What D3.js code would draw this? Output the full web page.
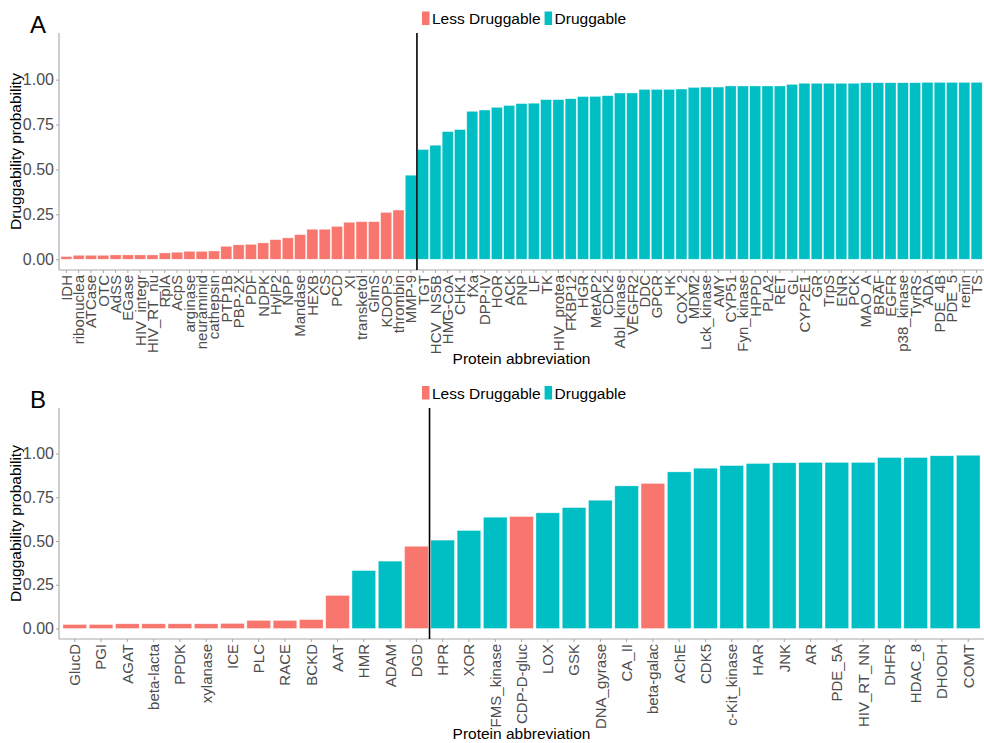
<!DOCTYPE html>
<html>
<head>
<meta charset="utf-8">
<script src="https://cdn.jsdelivr.net/npm/d3@7"></script>
<style>
  html, body { margin: 0; padding: 0; background: #ffffff; }
  svg { display: block; font-family: Arial, "Liberation Sans", sans-serif; }
</style>
</head>
<body>
<svg id="chart" width="984" height="743"></svg>
<script>
// Panel A: protein targets ordered by druggability probability
const proteinsA = [
  "IDH", "ribonuclea", "ATCase", "OTC", "AdSS", "EGase", "HIV_integr", "HIV_RT_nu",
  "RplA", "AcpS", "arginase", "neuraminid", "cathepsin", "PTP1B", "PBP-2X", "PDF",
  "NDPK", "HylP2", "NPP", "Mandase", "HEXB", "CS", "PCD", "XI", "transketol", "GlmS",
  "KDOPS", "thrombin", "MMP-9", "TGT", "HCV_NS5B", "HMG-CoA", "CHK1", "fXa", "DPP-IV",
  "HOR", "ACK", "PNP", "LF", "TK", "HIV_protea", "FKBP12", "HGR", "MetAP2", "CDK2",
  "Abl_kinase", "VEGFR2", "DDC", "GPCR", "HK", "COX_2", "MDM2", "Lck_kinase", "AMY",
  "CYP51", "Fyn_kinase", "HPPD", "PLA2", "RET", "GL", "CYP2E1", "GR", "TrpS", "ENR",
  "PCK", "MAO_A", "BRAF", "EGFR", "p38_kinase", "TyrRS", "ADA", "PDE_4B", "PDE_5",
  "renin", "TS"
];
const probA = [
  0.015, 0.022, 0.022, 0.022, 0.024, 0.024, 0.024, 0.024,
  0.035, 0.039, 0.044, 0.044, 0.046, 0.072, 0.080, 0.083,
  0.091, 0.109, 0.119, 0.137, 0.167, 0.167, 0.183, 0.206, 0.209, 0.209,
  0.261, 0.274, 0.468, 0.611, 0.635, 0.711, 0.722, 0.824, 0.831,
  0.846, 0.856, 0.867, 0.869, 0.889, 0.889, 0.894, 0.906, 0.907, 0.911,
  0.926, 0.926, 0.946, 0.946, 0.946, 0.948, 0.957, 0.959, 0.959,
  0.965, 0.965, 0.965, 0.965, 0.965, 0.974, 0.980, 0.980, 0.980, 0.980,
  0.980, 0.983, 0.983, 0.983, 0.983, 0.983, 0.985, 0.985, 0.985,
  0.985, 0.985
];
const classA = proteinsA.map((p, i) => i < 28 ? "Less Druggable" : "Druggable");
const cutoffA = ["MMP-9", "TGT"];

// Panel B: second protein set
const proteinsB = [
  "GlucD", "PGI", "AGAT", "beta-lacta", "PPDK", "xylanase", "ICE", "PLC", "RACE",
  "BCKD", "AAT", "HMR", "ADAM", "DGD", "HPR", "XOR", "FMS_kinase", "CDP-D-gluc",
  "LOX", "GSK", "DNA_gyrase", "CA_II", "beta-galac", "AChE", "CDK5", "c-Kit_kinase",
  "HAR", "JNK", "AR", "PDE_5A", "HIV_RT_NN", "DHFR", "HDAC_8", "DHODH", "COMT"
];
const probB = [
  0.023, 0.023, 0.027, 0.027, 0.027, 0.027, 0.029, 0.046, 0.046,
  0.051, 0.189, 0.331, 0.385, 0.470, 0.505, 0.560, 0.636, 0.640,
  0.661, 0.691, 0.733, 0.815, 0.829, 0.895, 0.916, 0.931,
  0.943, 0.947, 0.949, 0.949, 0.949, 0.977, 0.977, 0.987, 0.990
];
const lessDruggableB = ["GlucD", "PGI", "AGAT", "beta-lacta", "PPDK", "xylanase", "ICE",
  "PLC", "RACE", "BCKD", "AAT", "DGD", "CDP-D-gluc", "beta-galac"];
const classB = proteinsB.map(p => lessDruggableB.includes(p) ? "Less Druggable" : "Druggable");
const cutoffB = ["DGD", "HPR"];

const yTicks = [0, 0.25, 0.5, 0.75, 1.0];
const legendLabels = ["Less Druggable", "Druggable"];
const colour = d3.scaleOrdinal().domain(legendLabels).range(["#F8766D", "#00BFC4"]);

const svg = d3.select("#chart");

function drawPanel(opts) {
  const { names, values, classes, cutoff, letter, top, bottom, left, right, titleY, legendY } = opts;
  const g = svg.append("g");

  const x = d3.scaleBand().domain(names).range([left, right])
    .paddingInner(0.1).paddingOuter(0.15);
  const y = d3.scaleLinear().domain([-0.06, 1.26]).range([bottom, top]);

  // bars
  g.append("g").selectAll("rect")
    .data(names.map((n, i) => ({ n, v: values[i], c: classes[i] })))
    .join("rect")
    .attr("x", d => x(d.n))
    .attr("width", x.bandwidth())
    .attr("y", d => y(d.v))
    .attr("height", d => y(0) - y(d.v))
    .attr("fill", d => colour(d.c))
    .attr("stroke", "#ffffff")
    .attr("stroke-opacity", 0.6)
    .attr("stroke-width", 0.6);

  // y axis
  const yAxis = g.append("g")
    .attr("transform", `translate(${left},0)`)
    .call(d3.axisLeft(y).tickValues(yTicks).tickFormat(d3.format(".2f")).tickSize(3).tickPadding(2));
  yAxis.select(".domain").attr("stroke", "#a6a6a6").attr("stroke-width", 1.1)
    .attr("d", `M0,${top}V${bottom}`);
  yAxis.selectAll(".tick line").attr("stroke", "#a6a6a6");
  yAxis.selectAll(".tick text").attr("fill", "#4d4d4d").style("font-size", "16px");

  // x axis with vertical labels
  const xAxis = g.append("g")
    .attr("transform", `translate(0,${bottom})`)
    .call(d3.axisBottom(x).tickSize(3).tickPadding(2));
  xAxis.select(".domain").attr("stroke", "#a6a6a6").attr("stroke-width", 1.1)
    .attr("d", `M${left},0H${right}`);
  xAxis.selectAll(".tick line").attr("stroke", "#a6a6a6");
  xAxis.selectAll(".tick text")
    .attr("fill", "#4d4d4d")
    .style("font-size", "15px")
    .attr("transform", "rotate(-90)")
    .attr("text-anchor", "end")
    .attr("x", -5)
    .attr("y", 0)
    .attr("dy", "0.36em");

  // threshold line between the two classes
  const cx = (x(cutoff[0]) + x.bandwidth() + x(cutoff[1])) / 2;
  g.append("line")
    .attr("x1", cx).attr("x2", cx)
    .attr("y1", top).attr("y2", bottom)
    .attr("stroke", "#000000").attr("stroke-width", 1.6);

  // axis titles
  g.append("text")
    .attr("transform", `translate(21,${(top + bottom) / 2}) rotate(-90)`)
    .attr("text-anchor", "middle")
    .style("font-size", "15.5px")
    .attr("fill", "#000")
    .text("Druggability probability");
  g.append("text")
    .attr("x", (left + right) / 2)
    .attr("y", titleY)
    .attr("text-anchor", "middle")
    .style("font-size", "15.5px")
    .attr("fill", "#000")
    .text("Protein abbreviation");

  // panel letter
  g.append("text")
    .attr("x", 30).attr("y", top)
    .style("font-size", "24px")
    .attr("fill", "#000")
    .text(letter);

  // legend
  const leg = g.append("g").attr("transform", `translate(422,${legendY})`);
  let lx = 0;
  legendLabels.forEach(lbl => {
    leg.append("rect")
      .attr("x", lx).attr("y", -12.5)
      .attr("width", 7.5).attr("height", 13.5)
      .attr("fill", colour(lbl));
    const t = leg.append("text")
      .attr("x", lx + 10).attr("y", 0)
      .style("font-size", "15.5px")
      .attr("fill", "#000")
      .text(lbl);
    lx += 10 + t.node().getComputedTextLength() + 4;
  });
}

drawPanel({
  names: proteinsA, values: probA, classes: classA, cutoff: cutoffA, letter: "A",
  top: 33, bottom: 270, left: 59, right: 984, titleY: 364, legendY: 24
});
drawPanel({
  names: proteinsB, values: probB, classes: classB, cutoff: cutoffB, letter: "B",
  top: 408, bottom: 639, left: 59, right: 984, titleY: 739, legendY: 398.5
});
</script>
</body>
</html>
